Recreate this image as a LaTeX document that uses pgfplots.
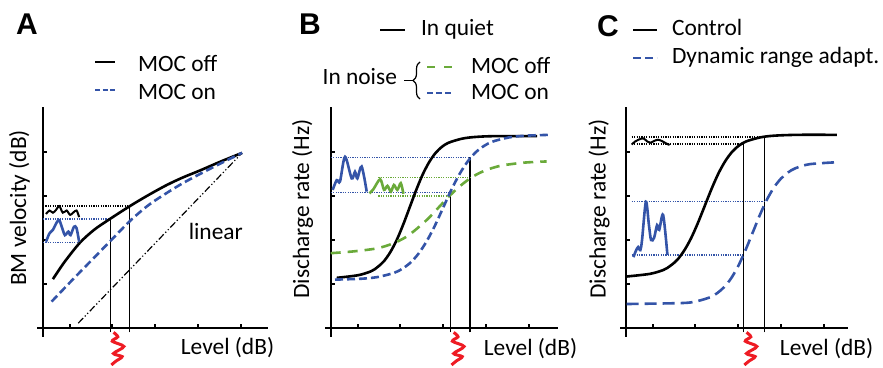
\documentclass[border=0pt]{standalone}
\usepackage{fontspec}
\setmainfont{Carlito}
\newfontfamily\letterfont{Liberation Sans}
\usepackage{pgfplots}
\pgfplotsset{compat=1.18}
\usetikzlibrary{decorations.pathreplacing}
\definecolor{mblue}{RGB}{52,84,168}
\definecolor{mgreen}{RGB}{106,170,58}
\definecolor{mred}{RGB}{238,28,36}
\pgfplotsset{
 panel/.style={
  x=21.5pt, y=22pt,
  axis lines=middle,
  axis line style={-, line width=1.2pt},
  xmin=-0.13, ymin=-0.2, ymax=5.02,
  xtick={0.63,1.6,2.6,3.6,4.6}, ytick={1,2,3,4},
  xticklabels={}, yticklabels={},
  tick align=inside,
  major tick length=2pt,
  tick style={line width=1pt, black},
  clip=false,
  anchor=origin,
 },
 curve/.style={line width=1.3pt, smooth},
 dotl/.style={line width=0.7pt, dash pattern=on 0.6pt off 0.6pt},
 vline/.style={line width=0.55pt, black},
 noise/.style={line width=1.3pt, smooth},
 redsq/.style={mred, line width=1.5pt, smooth},
}
\begin{document}
\begin{tikzpicture}[font=\fontsize{11.7}{14}\selectfont]
\useasboundingbox (0,0) rectangle (441.5pt,-184pt);
% ---------------- Panel A
\begin{axis}[panel, at={(21.5pt,-164pt)}, xmax=5.23]
\addplot[line width=0.6pt, black, dash pattern=on 3.5pt off 1.2pt on 0.6pt off 1.2pt on 0.6pt off 1.2pt] coordinates {(0.82,0.11) (4.63,3.98)};
\addplot[vline] coordinates {(1.56,-0.1) (1.56,2.48)};
\addplot[vline] coordinates {(2.02,-0.1) (2.02,2.77)};
\addplot[dotl, black] coordinates {(0,2.77) (2.02,2.77)};
\addplot[dotl, mblue] coordinates {(0,2.48) (1.56,2.48)};
\addplot[dotl, mblue] coordinates {(0,1.94) (0.86,1.94)};
\addplot[curve, black] coordinates {(0.23,1.11) (0.50,1.50) (0.86,1.94) (1.20,2.24) (1.56,2.48) (2.02,2.77) (2.45,3.02) (2.88,3.25) (3.25,3.42) (3.65,3.58) (4.15,3.79) (4.63,3.98)};
\addplot[curve, mblue, dash pattern=on 4pt off 2pt] coordinates {(0.20,0.60) (0.70,1.11) (1.20,1.61) (1.56,1.97) (2.02,2.43) (2.45,2.79) (2.88,3.07) (3.25,3.29) (3.65,3.50) (4.15,3.75) (4.63,3.98)};
\addplot[noise, black, line width=1pt] coordinates {(0.07,2.59) (0.15,2.67) (0.23,2.62) (0.30,2.68) (0.38,2.77) (0.46,2.62) (0.55,2.67) (0.63,2.57) (0.70,2.62) (0.78,2.67) (0.84,2.52)};
\addplot[noise, mblue] coordinates {(0.07,1.96) (0.15,2.15) (0.23,2.23) (0.32,2.40) (0.38,2.45) (0.46,2.23) (0.51,2.11) (0.59,2.19) (0.64,2.11) (0.72,2.30) (0.78,2.27) (0.84,1.96)};
\addplot[redsq] coordinates {(1.64,-0.10) (1.74,-0.20) (1.61,-0.30) (1.88,-0.42) (1.64,-0.58) (1.84,-0.65) (1.70,-0.75) (1.59,-0.84)};
\end{axis}
% ---------------- Panel B
\begin{axis}[panel, at={(165.35pt,-164pt)}, xmax=5.29]
\addplot[vline] coordinates {(2.78,-0.1) (2.78,3.10)};
\addplot[vline] coordinates {(3.24,-0.1) (3.24,3.88)};
\addplot[dotl, mblue] coordinates {(0,3.88) (3.24,3.88)};
\addplot[dotl, mblue] coordinates {(0,3.08) (2.78,3.08)};
\addplot[dotl, mgreen] coordinates {(1.11,3.42) (3.24,3.42)};
\addplot[dotl, mgreen] coordinates {(1.11,3.00) (2.77,3.00)};
\addplot[curve, black] coordinates {(0.14,1.14) (0.64,1.20) (0.94,1.29) (1.09,1.385) (1.24,1.52) (1.39,1.73) (1.54,2.01) (1.69,2.36) (1.84,2.75) (1.99,3.14) (2.14,3.49) (2.29,3.77) (2.44,3.98) (2.59,4.12) (2.74,4.21) (3.04,4.30) (3.34,4.34) (3.80,4.36) (4.80,4.36)};
\addplot[curve, mgreen, dash pattern=on 5pt off 3.5pt] coordinates {(0.0,1.70) (0.52,1.74) (1.02,1.80) (1.27,1.86) (1.52,1.95) (1.77,2.08) (2.02,2.27) (2.27,2.49) (2.52,2.75) (2.77,3.01) (3.02,3.235) (3.27,3.42) (3.52,3.55) (3.77,3.64) (4.02,3.70) (4.52,3.76) (5.02,3.785)};
\addplot[curve, mblue, dash pattern=on 4pt off 2pt] coordinates {(0.10,1.10) (0.72,1.12) (1.10,1.16) (1.48,1.255) (1.67,1.35) (1.86,1.49) (2.05,1.70) (2.24,1.985) (2.43,2.34) (2.62,2.745) (2.81,3.15) (3.00,3.505) (3.19,3.79) (3.38,4.00) (3.57,4.14) (3.76,4.235) (4.14,4.33) (4.52,4.37) (5.10,4.39)};
\addplot[noise, mblue] coordinates {(0.047,3.14) (0.14,3.36) (0.216,3.33) (0.333,3.89) (0.488,3.40) (0.565,3.55) (0.62,3.40) (0.72,3.67) (0.837,3.10)};
\addplot[noise, mgreen] coordinates {(0.90,3.06) (0.99,3.15) (1.15,3.38) (1.24,3.14) (1.32,3.23) (1.40,3.10) (1.47,3.25) (1.55,3.14) (1.63,3.29) (1.69,3.05)};
\addplot[redsq] coordinates {(2.86,-0.10) (2.96,-0.20) (2.83,-0.30) (3.10,-0.42) (2.86,-0.58) (3.06,-0.65) (2.92,-0.75) (2.81,-0.84)};
\end{axis}
% ---------------- Panel C
\begin{axis}[panel, at={(312.85pt,-164pt)}, xmax=5.17]
\addplot[vline] coordinates {(2.73,-0.1) (2.73,4.20)};
\addplot[vline] coordinates {(3.22,-0.1) (3.22,4.34)};
\addplot[dotl, black] coordinates {(0.14,4.34) (3.22,4.34)};
\addplot[dotl, black] coordinates {(0.14,4.18) (2.73,4.18)};
\addplot[dotl, mblue] coordinates {(0.14,2.88) (3.22,2.88)};
\addplot[dotl, mblue] coordinates {(0.14,1.66) (2.73,1.66)};
\addplot[curve, black] coordinates {(0.02,1.17) (0.56,1.23) (0.88,1.32) (1.04,1.415) (1.20,1.55) (1.36,1.76) (1.52,2.04) (1.68,2.39) (1.84,2.78) (2.00,3.17) (2.16,3.52) (2.32,3.80) (2.48,4.01) (2.64,4.15) (2.80,4.24) (3.12,4.33) (3.44,4.37) (4.00,4.39) (4.91,4.39)};
\addplot[curve, mblue, dash pattern=on 6pt off 3pt] coordinates {(0.02,0.545) (1.30,0.567) (1.63,0.603) (1.96,0.697) (2.125,0.791) (2.29,0.93) (2.455,1.134) (2.62,1.415) (2.785,1.768) (2.95,2.16) (3.115,2.557) (3.28,2.91) (3.445,3.19) (3.61,3.395) (3.775,3.534) (3.94,3.628) (4.27,3.722) (4.87,3.765)};
\addplot[noise, black, line width=1pt] coordinates {(0.14,4.17) (0.22,4.24) (0.30,4.28) (0.41,4.31) (0.50,4.24) (0.57,4.21) (0.66,4.25) (0.75,4.28) (0.84,4.25) (0.95,4.19) (1.02,4.16)};
\addplot[noise, mblue] coordinates {(0.18,1.61) (0.24,1.76) (0.29,1.84) (0.34,1.77) (0.38,2.0) (0.47,2.87) (0.54,2.34) (0.59,2.0) (0.66,2.05) (0.73,2.34) (0.78,2.23) (0.87,2.57) (0.97,1.66)};
\addplot[redsq] coordinates {(2.81,-0.10) (2.91,-0.20) (2.78,-0.30) (3.05,-0.42) (2.81,-0.58) (3.01,-0.65) (2.87,-0.75) (2.76,-0.84)};
\end{axis}
% ---------------- Panel letters
\node[anchor=base west, font=\fontsize{15}{17}\selectfont\letterfont\bfseries] at (4.5pt,-17.5pt) {A};
\node[anchor=base west, font=\fontsize{15}{17}\selectfont\letterfont\bfseries] at (146pt,-17.5pt) {B};
\node[anchor=base west, font=\fontsize{15}{17}\selectfont\letterfont\bfseries] at (295pt,-18.5pt) {C};
% ---------------- Legends
\draw[line width=1.3pt] (47.5pt,-31pt) -- (57.5pt,-31pt);
\node[anchor=base west] at (65.5pt,-36pt) {MOC off};
\draw[mblue, line width=1.3pt, dash pattern=on 2.5pt off 1.3pt] (47.5pt,-45pt) -- (57.5pt,-45pt);
\node[anchor=base west] at (65.5pt,-50pt) {MOC on};
\draw[line width=1.3pt] (190pt,-15pt) -- (202.5pt,-15pt);
\node[anchor=base west] at (207pt,-18pt) {In quiet};
\node[anchor=base east] at (202pt,-42.5pt) {In noise};
\draw[line width=0.6pt] (202pt,-40.2pt) -- (206.5pt,-40.2pt);
\draw[line width=0.6pt, decorate, decoration={brace, amplitude=3.5pt}] (210pt,-49.5pt) -- (210pt,-31pt);
\draw[mgreen, line width=1.3pt, dash pattern=on 4pt off 4.5pt] (213.5pt,-33.5pt) -- (226.5pt,-33.5pt);
\node[anchor=base west] at (232pt,-37pt) {MOC off};
\draw[mblue, line width=1.3pt, dash pattern=on 3pt off 1.5pt] (213.5pt,-46.5pt) -- (226.5pt,-46.5pt);
\node[anchor=base west] at (232pt,-49.7pt) {MOC on};
\draw[line width=1.3pt] (316.5pt,-15pt) -- (328.5pt,-15pt);
\node[anchor=base west] at (332.5pt,-18pt) {Control};
\draw[mblue, line width=1.3pt, dash pattern=on 4pt off 2pt] (316.5pt,-29pt) -- (328.5pt,-29pt);
\node[anchor=base west] at (332.5pt,-32pt) {Dynamic range adapt.};
% ---------------- Axis labels
\node[rotate=90, anchor=base] at (13pt,-104pt) {BM velocity (dB)};
\node[rotate=90, anchor=base] at (154.5pt,-104.5pt) {Discharge rate (Hz)};
\node[rotate=90, anchor=base] at (302.8pt,-104.5pt) {Discharge rate (Hz)};
\node[anchor=base] at (113.75pt,-177.5pt) {Level (dB)};
\node[anchor=base] at (265.25pt,-178pt) {Level (dB)};
\node[anchor=base] at (413.3pt,-178pt) {Level (dB)};
\node[anchor=base] at (107.9pt,-120pt) {linear};
\end{tikzpicture}
\end{document}
